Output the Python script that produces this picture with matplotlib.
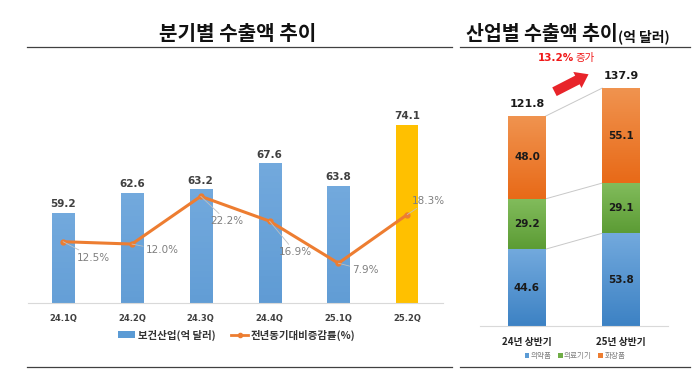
import numpy as np
import matplotlib.pyplot as plt
from matplotlib.colors import LinearSegmentedColormap
from matplotlib.lines import Line2D
from matplotlib.patches import Patch, FancyArrowPatch

KR = ['Noto Sans CJK KR', 'DejaVu Sans']
NUM = ['DejaVu Sans', 'Noto Sans CJK KR']
plt.rcParams['font.family'] = KR

# quarterly data
quarters = ['24.1Q', '24.2Q', '24.3Q', '24.4Q', '25.1Q', '25.2Q']
exports = [59.2, 62.6, 63.2, 67.6, 63.8, 74.1]
yoy = [12.5, 12.0, 22.2, 16.9, 7.9, 18.3]

# half-year by industry
halves = ['24년 상반기', '25년 상반기']
industries = ['의약품', '의료기기', '화장품']
pharma = [44.6, 53.8]
device = [29.2, 29.1]
cosmetic = [48.0, 55.1]
totals = [121.8, 137.9]
growth = '13.2%'

W, H = 700, 384
fig = plt.figure(figsize=(W / 100, H / 100), dpi=100)


def box(x0, y0, x1, y1):
    # pixel box (top-left origin) -> figure fraction
    return [x0 / W, 1 - y1 / H, (x1 - x0) / W, (y1 - y0) / H]


def fx(x):
    return x / W


def fy(y):
    return 1 - y / H


def gradient_bars(ax, bars, top, bottom):
    cmap = LinearSegmentedColormap.from_list('g', [bottom, top])
    grad = np.linspace(0, 1, 64).reshape(-1, 1)
    for b in bars:
        x0, y0 = b.get_x(), b.get_y()
        ax.imshow(grad, extent=[x0, x0 + b.get_width(), y0, y0 + b.get_height()],
                  origin='lower', aspect='auto', cmap=cmap, zorder=2)
        b.set_facecolor('none')


# ---------------- left chart ----------------
ax = fig.add_axes(box(28, 70, 443, 303))
x = np.arange(len(quarters))
bars = ax.bar(x, exports, width=0.32, color='#5B9BD5', zorder=2)
gradient_bars(ax, bars[:-1], '#72A9DD', '#3D82C4')
bars[-1].set_facecolor('#FFC000')
ax.set_xlim(-0.51, 5.52)
ax.set_ylim(44, 83.5)
for xi, v in zip(x, exports):
    ax.text(xi, v + 0.7, f'{v:.1f}', ha='center', va='bottom', fontsize=7.5,
            fontweight='bold', color='#404040', family=NUM)
ax.set_xticks(x)
ax.set_xticklabels(quarters, fontsize=6, fontweight='bold', color='#404040', family=NUM)
ax.tick_params(length=0, pad=8)
ax.set_yticks([])
for s in ['top', 'right', 'left']:
    ax.spines[s].set_visible(False)
ax.spines['bottom'].set_color('#D9D9D9')

ax2 = ax.twinx()
ax2.plot(x, yoy, color='#ED7D31', lw=2.2, marker='o', ms=3.5, zorder=3)
ax2.set_ylim(-0.6, 49.2)
ax2.axis('off')
offsets = [(14, -16), (14, -6), (10, -25), (9, -31), (14, -7), (5, 14)]
for xi, v, (dx, dy) in zip(x, yoy, offsets):
    ax2.annotate(f'{v:.1f}%', xy=(xi, v), xytext=(dx, dy), textcoords='offset pixels',
                 ha='left', va='center', fontsize=7.5, color='#7F7F7F', family=NUM,
                 arrowprops=dict(arrowstyle='-', color='#BFBFBF', lw=0.6,
                                 shrinkA=0, shrinkB=0))

fig.text(fx(238), fy(33), '분기별 수출액 추이', ha='center', va='center',
         fontsize=14.5, fontweight='bold', color='#111111')
fig.add_artist(Line2D([fx(27), fx(452)], [fy(47), fy(47)], color='#404040', lw=0.9))
fig.add_artist(Line2D([fx(27), fx(452)], [fy(367), fy(367)], color='#404040', lw=0.9))

handles = [Patch(facecolor='#5B9BD5', edgecolor='none'),
           Line2D([], [], color='#ED7D31', lw=2, marker='o', ms=3)]
fig.legend(handles, ['보건산업(억 달러)', '전년동기대비증감률(%)'], ncol=2,
           loc='center', bbox_to_anchor=(fx(237), fy(335)), frameon=False,
           prop={'family': KR, 'size': 7.5, 'weight': 'bold'}, labelcolor='#333333',
           handlelength=1.6, handleheight=0.6, handletextpad=0.3, columnspacing=1.5)

# ---------------- right chart ----------------
bx = fig.add_axes(box(480, 70, 668, 326))
xr = np.arange(len(halves))
bw = 0.40
lower = [np.zeros(2), np.array(pharma), np.add(pharma, device)]
seg_colors = [('#72A9DD', '#3D82C4'), ('#82BC5C', '#5C9C35'), ('#F0934F', '#E86A18')]
for vals, btm, (ct, cb) in zip([pharma, device, cosmetic], lower, seg_colors):
    seg = bx.bar(xr, vals, width=bw, bottom=btm, zorder=2)
    gradient_bars(bx, seg, ct, cb)
    for xi, v, b in zip(xr, vals, btm):
        bx.text(xi, b + v / 2, f'{v:.1f}', ha='center', va='center', fontsize=7.5,
                fontweight='bold', color='#1a1a1a', family=NUM, zorder=4)
    # connector line between the two segment tops
    t = np.add(btm, vals)
    bx.plot([bw / 2, 1 - bw / 2], [t[0], t[1]], color='#C8C8C8', lw=0.7, zorder=1)
bx.set_xlim(-0.5, 1.5)
bx.set_ylim(0, 148.5)
for xi, t in zip(xr, totals):
    bx.text(xi, t + 4, f'{t:.1f}', ha='center', va='bottom', fontsize=8,
            fontweight='bold', color='#1a1a1a', family=NUM)

bx.set_xticks(xr)
bx.set_xticklabels(halves, fontsize=7, fontweight='bold', color='#222222')
bx.tick_params(length=0, pad=8)
bx.set_yticks([])
for s in ['top', 'right', 'left']:
    bx.spines[s].set_visible(False)
bx.spines['bottom'].set_color('#D9D9D9')

fig.text(fx(466), fy(35), '산업별 수출액 추이', ha='left', va='center',
         fontsize=14, fontweight='bold', color='#111111')
fig.text(fx(618), fy(37), '(억 달러)', ha='left', va='center',
         fontsize=10, fontweight='bold', color='#111111')
fig.add_artist(Line2D([fx(460), fx(690)], [fy(47), fy(47)], color='#404040', lw=0.9))
fig.add_artist(Line2D([fx(460), fx(690)], [fy(367), fy(367)], color='#404040', lw=0.9))

fig.text(fx(574), fy(58), growth, ha='right', va='center', fontsize=7.5,
         fontweight='bold', color='#F01818', family=NUM)
fig.text(fx(576), fy(58), '증가', ha='left', va='center', fontsize=7.5, color='#F01818')
arrow = FancyArrowPatch((fx(552), fy(93)), (fx(591), fy(73)), transform=fig.transFigure,
                        arrowstyle='simple,head_length=9,head_width=13,tail_width=7',
                        mutation_scale=1, color='#E8242A', lw=0)
fig.add_artist(arrow)

rh = [Patch(facecolor=c, edgecolor='none') for c in ['#5B9BD5', '#70AD47', '#ED7D31']]
fig.legend(rh, industries, ncol=3, loc='center', bbox_to_anchor=(fx(575), fy(356)),
           frameon=False, prop={'family': KR, 'size': 5.5}, labelcolor='#7F7F7F',
           handlelength=0.6, handleheight=0.6, handletextpad=0.2, columnspacing=0.8)

fig.savefig('out.png', dpi=100)
